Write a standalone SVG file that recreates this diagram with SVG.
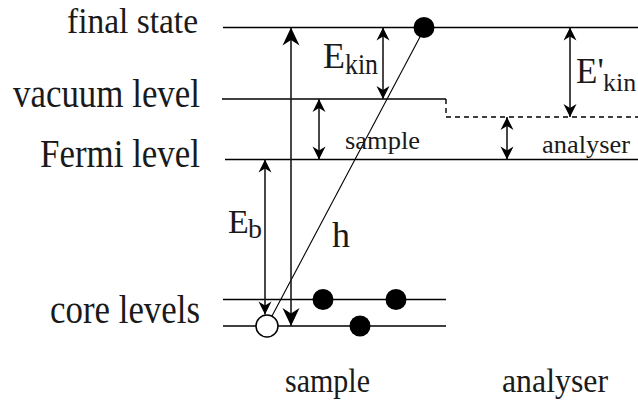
<svg xmlns="http://www.w3.org/2000/svg" width="638" height="400" viewBox="0 0 638 400">
<defs>
<style>
.lvl{stroke:#000;stroke-width:1.6;fill:none}
.dash{stroke:#000;stroke-width:1.4;stroke-dasharray:5 4;fill:none}
.arr{stroke:#1a1a1a;stroke-width:1.6;fill:none;marker-start:url(#ah);marker-end:url(#ah)}
.big{stroke:#1a1a1a;stroke-width:1.6;fill:none;marker-start:url(#ahb);marker-end:url(#ahb)}
.ph{stroke:#000;stroke-width:1.1;fill:none}
text{font-family:"Liberation Serif","Times New Roman",serif;fill:#1a1a1a}
.dot{fill:#000}
.hole{fill:#fff;stroke:#000;stroke-width:1.5}
</style>
<marker id="ah" markerUnits="userSpaceOnUse" orient="auto-start-reverse" refX="0" refY="0" markerWidth="20" markerHeight="20" overflow="visible">
<path d="M0,0 L-13,-6.5 L-9,0 L-13,6.5 Z" fill="#000"/>
</marker>
<marker id="ahb" markerUnits="userSpaceOnUse" orient="auto-start-reverse" refX="0" refY="0" markerWidth="24" markerHeight="24" overflow="visible">
<path d="M0,0 L-18,-8.5 L-12.5,0 L-18,8.5 Z" fill="#000"/>
</marker>
</defs>
<g id="final-state">
<path class="lvl" d="M223,27.5 H638"/>
<text x="67" y="33" font-size="36" textLength="131" lengthAdjust="spacingAndGlyphs">final state</text>
</g>
<g id="vacuum-level">
<path class="lvl" d="M222,99 H446"/>
<path class="dash" d="M446,99 V117 H638"/>
<text x="13" y="107" font-size="39" textLength="187" lengthAdjust="spacingAndGlyphs">vacuum level</text>
</g>
<g id="fermi-level">
<path class="lvl" d="M225,159.5 H638"/>
<text x="40" y="167" font-size="39" textLength="160" lengthAdjust="spacingAndGlyphs">Fermi level</text>
</g>
<g id="core-levels">
<path class="lvl" d="M223,299.5 H446"/>
<path class="lvl" d="M223,326 H446"/>
<text x="50" y="323" font-size="39" textLength="150" lengthAdjust="spacingAndGlyphs">core levels</text>
</g>
<g id="connectors">
<path class="ph" d="M421,35 L272,316"/>
<path class="big" d="M291,27.5 V326"/>
<path class="arr" d="M383,27.5 V99"/>
<path class="arr" d="M319,99 V159.5"/>
<path class="arr" d="M265,159.5 V314.5"/>
<path class="arr" d="M507,117 V159.5"/>
<path class="arr" d="M570,27.5 V117"/>
</g>
<g id="electrons">
<circle class="dot" cx="424" cy="27.5" r="10.5"/>
<circle class="dot" cx="323" cy="299.5" r="10.5"/>
<circle class="dot" cx="396" cy="299.5" r="10.5"/>
<circle class="dot" cx="360" cy="326" r="10.5"/>
<circle class="hole" cx="267" cy="326" r="11"/>
</g>
<g id="labels">
<text font-size="36"><tspan x="323" y="68">E</tspan><tspan x="345" y="74" font-size="30" textLength="33" lengthAdjust="spacingAndGlyphs">kin</tspan></text>
<text font-size="35"><tspan x="576" y="83">E'</tspan><tspan x="603" y="91" font-size="26">kin</tspan></text>
<text font-size="34"><tspan x="228" y="233">E</tspan><tspan x="248" y="238" font-size="28">b</tspan></text>
<text x="332" y="247" font-size="36">h</text>
<text x="345" y="149" font-size="25" textLength="75" lengthAdjust="spacingAndGlyphs">sample</text>
<text x="542" y="153" font-size="26" textLength="88" lengthAdjust="spacingAndGlyphs">analyser</text>
<text x="285" y="392" font-size="34" textLength="85" lengthAdjust="spacingAndGlyphs">sample</text>
<text x="502" y="392" font-size="34" textLength="106" lengthAdjust="spacingAndGlyphs">analyser</text>
</g>
</svg>
